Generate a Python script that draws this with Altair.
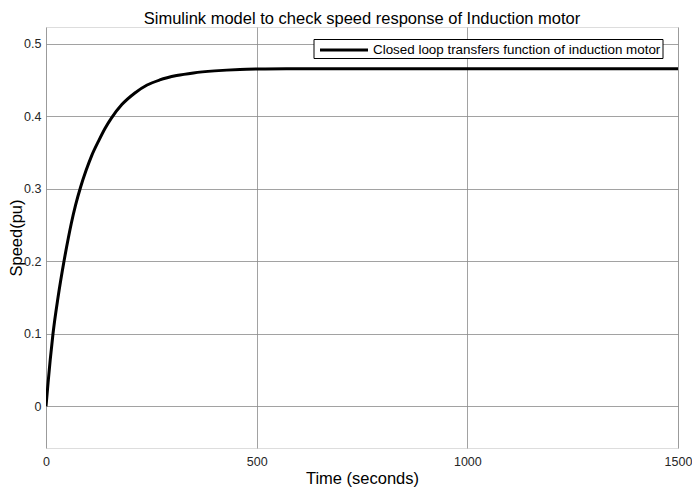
import altair as alt
import pandas as pd

time_s = [0, 5, 10, 16.6, 28.5, 42.7, 53, 60, 70, 82, 95, 108, 125, 140, 156, 180, 211,
          240, 270, 310, 350, 400, 460, 520, 600, 800, 1000, 1500]
speed_pu = [0, 0.033, 0.064, 0.1, 0.15, 0.2, 0.232, 0.252, 0.277, 0.302, 0.325, 0.345,
            0.366, 0.383, 0.398, 0.416, 0.432, 0.443, 0.45, 0.456, 0.4597, 0.4625, 0.4645,
            0.4652, 0.4655, 0.4656, 0.4656, 0.4656]
series_name = "Closed loop transfers function of induction motor"
x_ticks = [0, 500, 1000, 1500]
y_ticks = [0, 0.1, 0.2, 0.3, 0.4, 0.5]

df = pd.DataFrame({"t": time_s, "y": speed_pu})
leg_df = pd.DataFrame({"s": [series_name]})

FONT = "Liberation Sans, Arial, Helvetica, sans-serif"

line = alt.Chart(df).mark_line(strokeWidth=3, clip=True, color="#000000",
                               interpolate="monotone").encode(
    x=alt.X("t:Q", scale=alt.Scale(domain=[0, 1500], nice=False, zero=False),
            axis=alt.Axis(title="Time (seconds)", values=x_ticks, format="d",
                          labelFontSize=12.5, titleFontSize=16.5, titleFontWeight="normal",
                          labelColor="#262626", titleColor="#000000", titlePadding=3,
                          labelPadding=7, grid=True, gridColor="#8a8a8a", gridWidth=0.8,
                          ticks=False, domain=False, labelFlush=False)),
    y=alt.Y("y:Q", scale=alt.Scale(domain=[-0.0575, 0.523], nice=False, zero=False),
            axis=alt.Axis(title="Speed(pu)", values=y_ticks, format="~g",
                          labelFontSize=12.5, titleFontSize=16.5, titleFontWeight="normal",
                          labelColor="#262626", titleColor="#000000",
                          titleX=-25, titleY=210.5, titleAngle=270,
                          titleBaseline="alphabetic",
                          labelPadding=5, grid=True, gridColor="#8a8a8a", gridWidth=0.8,
                          ticks=False, domain=False)),
)

legend_box = alt.Chart(leg_df).mark_rect(fill="#ffffff", stroke="#000000",
                                         strokeWidth=1).encode(
    x=alt.value(268), x2=alt.value(617), y=alt.value(12.5), y2=alt.value(31.5))
legend_line = alt.Chart(leg_df).mark_rule(strokeWidth=3, color="#000000").encode(
    x=alt.value(274), x2=alt.value(322), y=alt.value(23))
legend_text = alt.Chart(leg_df).mark_text(align="left", baseline="middle", fontSize=13.4,
                                          font=FONT, color="#000000").encode(
    x=alt.value(327), y=alt.value(23), text="s:N")

chart = alt.layer(line, legend_box, legend_line, legend_text).properties(
    width=632, height=421,
    title=alt.TitleParams("Simulink model to check speed response of Induction motor",
                          fontSize=16.5, fontWeight="normal", color="#000000",
                          anchor="middle", offset=0, font=FONT),
    padding={"left": 38, "top": 19, "right": 14, "bottom": 40},
    autosize=alt.AutoSizeParams(type="none"),
).configure_view(
    stroke="#000000", strokeWidth=1
).configure_axis(
    labelFont=FONT, titleFont=FONT
).configure(background="#ffffff")

chart.save("out.html", embed_options={"renderer": "svg", "actions": False})
